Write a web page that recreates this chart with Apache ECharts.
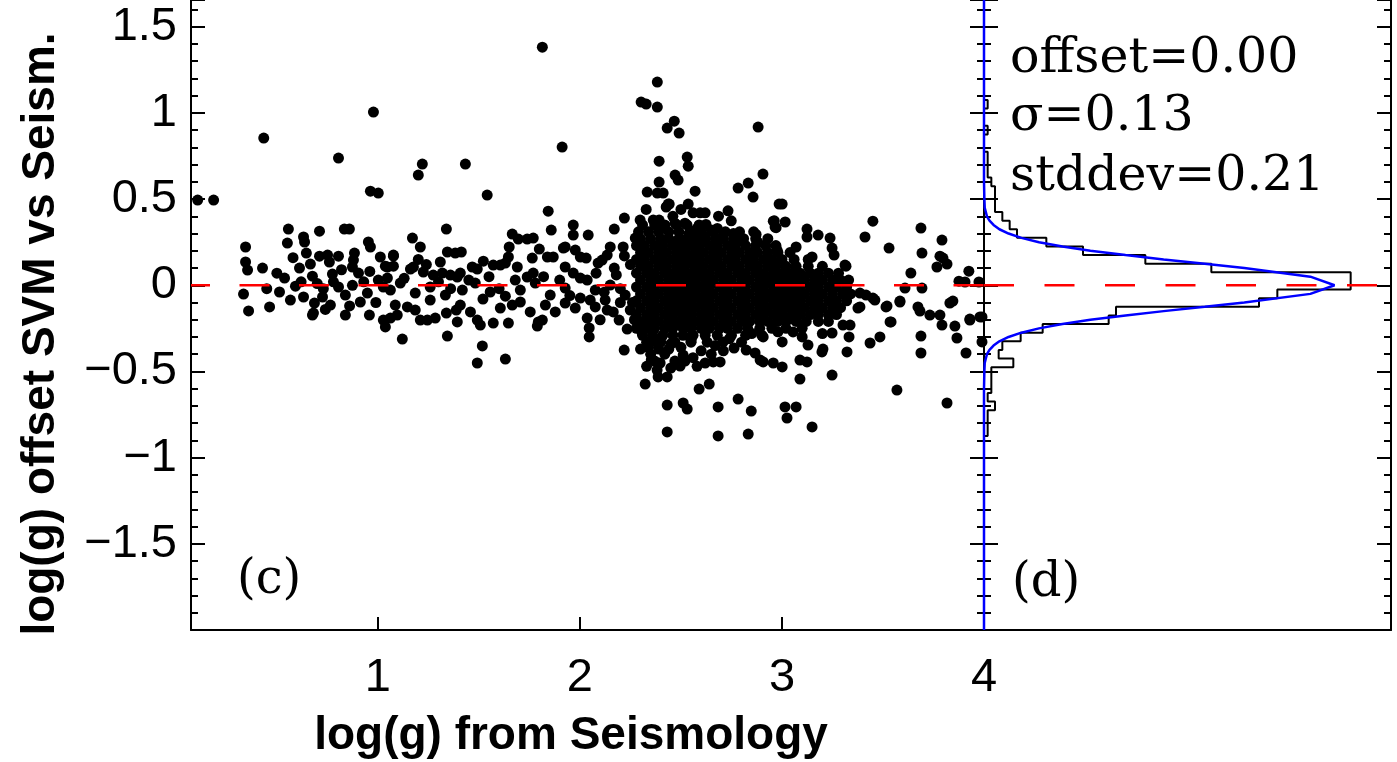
<!DOCTYPE html>
<html><head><meta charset="utf-8">
<script src="https://cdn.jsdelivr.net/npm/echarts@6/dist/echarts.min.js"></script>
<style>html,body{margin:0;padding:0;background:#fff;overflow:hidden}#c{width:1397px;height:762px}</style>
</head><body><div id="c"></div>
<script>
// ---------------- DATA ----------------
const xLabelValues = [1, 2, 3, 4];
const xTickValues = [1, 2, 3];
const xTitle = 'log(g) from Seismology';
const yTitle = 'log(g) offset SVM vs Seism.';
const statLines = ['offset=0.00', 'σ=0.13', 'stddev=0.21'];

const sparseLeft = [[0.108,0.494],[0.187,0.494],[0.435,0.854],[0.978,1.005],[0.805,0.738],[0.963,0.546],[1.002,0.535],
[0.345,0.222],[0.345,0.135],[0.355,0.088],[0.429,0.100],[0.335,-0.051],[0.360,-0.149],[0.464,-0.126],[0.538,0.042],[0.513,-0.039],[0.557,0.326],[0.552,0.245],[0.632,0.280],[0.637,0.251],[0.646,0.187],[0.711,0.314],[0.711,0.169],[0.751,0.175],[0.760,0.135],[0.612,0.100],[0.666,0.123],[0.676,0.053],[0.592,-0.005],[0.632,-0.068],[0.686,-0.103],[0.681,-0.161],[0.676,-0.173],[0.775,0.065],[0.805,0.169],[0.834,0.326],[0.859,0.326],[0.805,-0.010],[0.839,-0.173],[0.884,0.187],[0.874,0.106],[0.904,0.071],[0.879,0.146],[0.953,0.251],[0.963,0.222],[1.012,0.164],[0.913,-0.097],[0.958,-0.173],[0.948,-0.045],[1.002,0.030],[1.047,0.042],[1.027,-0.010],[1.077,0.175],[1.047,0.106],[1.037,-0.242],[1.027,-0.202],
[0.567,-0.086],[0.726,-0.068],[0.765,-0.115],[0.839,-0.057],[0.874,0.000],[0.620,0.020],[0.700,0.010],[0.730,-0.020],[0.780,0.020],[0.990,-0.100],[0.960,0.080],[0.930,0.020],[0.820,0.090],[0.860,-0.120],[0.740,-0.140],[0.580,0.160],[0.500,0.070],[0.450,-0.020]];

const sparseMid = [[1.220,0.703],[1.200,0.639],[1.433,0.703],[1.541,0.523],[1.814,1.381],[1.912,0.802],[1.843,0.430],
[1.171,0.274],[1.210,0.222],[1.339,0.326],[1.344,0.193],[1.383,0.187],[1.413,0.193],[1.077,0.169],[1.037,0.111],[1.077,0.111],[1.176,0.106],[1.161,0.094],[1.225,0.077],[1.309,0.135],[1.274,0.059],[1.319,0.071],[1.359,0.059],[1.408,0.071],[1.393,0.048],[1.467,0.106],[1.492,0.094],[1.522,0.140],[1.571,0.117],[1.606,0.117],[1.631,0.129],[1.650,0.222],[1.646,0.164],[1.665,0.297],[1.695,0.268],[1.739,0.268],[1.769,0.274],[1.799,0.210],[1.764,0.158],[1.839,0.164],[1.868,0.164],[1.690,0.106],[1.739,0.048],[1.769,0.071],[1.858,0.320],[1.918,0.216],[1.927,0.222],[1.967,0.349],[1.967,0.291],[1.977,0.204],[2.041,0.291],[2.002,0.164],[2.031,0.158],[1.927,0.106],[1.967,0.071],[2.002,0.042],[2.036,0.030],[2.090,0.129],[2.110,0.146],[2.135,0.175],[2.150,0.222],[2.170,0.326],[2.220,0.390],[2.274,0.274],[2.214,0.222],
[1.062,-0.028],[1.111,0.013],[1.185,-0.045],[1.259,-0.010],[1.334,-0.057],[1.418,-0.028],[1.482,0.013],[1.556,-0.039],[1.631,-0.063],[1.705,-0.028],[1.779,0.013],[1.853,-0.057],[1.927,-0.016],[2.002,-0.074],[2.076,-0.028],[2.150,0.001],[2.224,-0.057],
[1.086,-0.115],[1.185,-0.144],[1.259,-0.086],[1.408,-0.115],[1.458,-0.155],[1.606,-0.132],[1.705,-0.097],[1.754,-0.155],[1.829,-0.115],[1.878,-0.155],[1.977,-0.132],[2.051,-0.086],[2.125,-0.086],[2.249,-0.144],
[1.121,-0.312],[1.062,-0.190],[1.096,-0.173],[1.146,-0.126],[1.210,-0.202],[1.245,-0.202],[1.284,-0.190],[1.339,-0.161],[1.344,-0.295],[1.393,-0.213],[1.388,-0.144],[1.492,-0.202],[1.507,-0.231],[1.517,-0.352],[1.492,-0.451],[1.571,-0.219],[1.631,-0.428],[1.646,-0.219],[1.665,-0.115],[1.794,-0.213],[1.814,-0.202],[1.789,-0.237],[1.927,-0.103],[2.036,-0.190],[2.046,-0.248],[2.046,-0.300],[2.076,-0.126],[2.135,-0.144],[2.165,-0.155],[2.194,-0.202],[2.234,-0.254],[2.219,-0.376],
[1.130,0.040],[1.300,0.020],[1.450,0.030],[1.550,0.050],[1.600,-0.020],[1.680,0.030],[1.820,0.050],[1.900,0.030],[2.080,0.070],[2.180,0.060],[2.200,-0.020],[2.120,-0.040],[2.250,0.120],[2.220,0.170],[2.170,0.100],[2.260,-0.100],[2.200,-0.100],[2.270,-0.200],[2.100,-0.200],[1.950,-0.060],[1.520,-0.080],[1.360,-0.020],[1.200,0.150],[1.240,0.120]];

const upperCluster = [[2.383,1.179],[2.303,1.063],[2.328,1.051],[2.383,1.034],[2.467,0.952],[2.432,0.912],[2.491,0.883],[2.882,0.918],[2.392,0.720],[2.531,0.744],[2.536,0.691],[2.906,0.645],[2.471,0.639],[2.486,0.610],[2.392,0.599],[2.783,0.564],[2.833,0.593],[2.857,0.512],[2.333,0.541],[2.383,0.535],[2.412,0.535],[2.570,0.546],[2.437,0.471],[2.427,0.454],[2.536,0.471],[2.733,0.432],[2.686,0.401],[2.749,0.374],[2.595,0.420],[2.620,0.420],[2.624,0.353],[2.707,0.285],[2.872,0.295],[2.962,0.374],[2.971,0.334],[2.986,0.471],[2.442,0.471],[2.328,0.440],[2.298,0.378],[2.363,0.378],[2.392,0.378],
[2.460,0.400],[2.520,0.360],[2.560,0.420],[2.500,0.440],[2.410,0.340],[2.580,0.330],[2.650,0.320],[2.470,0.360],[2.540,0.300],[2.620,0.280],[2.680,0.330],[2.760,0.300],[2.800,0.260],[2.880,0.250]];

const rightSide = [[3.001,0.471],[2.957,0.372],[3.016,0.367],[2.966,0.338],[3.124,0.280],[3.179,0.291],[3.238,0.274],[3.248,0.216],[3.258,0.175],[3.070,0.222],[2.976,0.204],[3.312,0.117],[3.450,0.372],[3.411,0.280],[3.530,0.216],[3.688,0.332],[3.693,0.187],[3.792,0.262],[3.782,0.169],[3.797,0.158],[3.767,0.106],[3.817,0.123],[3.638,0.071],[3.925,0.082],[3.876,0.024],[3.906,0.019],[3.975,0.019],[3.609,-0.016],[3.693,-0.016],[3.584,-0.092],[3.520,-0.121],[3.450,-0.074],[3.386,-0.045],[3.416,-0.057],[3.673,-0.126],[3.683,-0.150],[3.732,-0.173],[3.782,-0.173],[3.831,-0.103],[3.846,-0.092],[3.930,-0.196],[3.980,-0.184],[3.540,-0.213],[3.376,-0.132],[3.312,-0.039],[3.124,0.326],[3.149,0.164],[3.317,0.111]];

const lowerRight = [[3.089,-0.544],[3.248,-0.521],[3.015,-0.706],[3.070,-0.706],[3.025,-0.770],[3.149,-0.822],[3.569,-0.608],[3.817,-0.683],[3.322,-0.387],[3.436,-0.335],[3.485,-0.300],[3.332,-0.300],[3.688,-0.295],[3.688,-0.393],[3.535,-0.213],[3.515,-0.126],[3.584,-0.097],[3.792,-0.231],[3.856,-0.237],[3.866,-0.306],[3.911,-0.393],[3.930,-0.202],[3.990,-0.329],[3.990,-0.184],[3.129,-0.347],[3.198,-0.387],[3.203,-0.370],[3.089,-0.434],[3.124,-0.445],[3.001,-0.329],[2.957,-0.451],[3.001,-0.474],[2.907,-0.445],[3.055,-0.271],[3.248,-0.277],[3.337,-0.231],[3.302,-0.231],[3.386,-0.126],[3.460,-0.086]];

const lowerMid = [[2.308,-0.277],[2.313,-0.219],[2.323,-0.573],[2.353,-0.434],[2.382,-0.492],[2.397,-0.451],[2.432,-0.532],[2.387,-0.532],[2.432,-0.695],[2.432,-0.851],[2.511,-0.683],[2.531,-0.718],[2.496,-0.469],[2.511,-0.405],[2.590,-0.602],[2.640,-0.573],[2.620,-0.451],[2.660,-0.445],[2.694,-0.445],[2.684,-0.706],[2.684,-0.874],[2.783,-0.660],[2.848,-0.730],[2.833,-0.863],[2.763,-0.364],[2.823,-0.376],[2.867,-0.393],[2.892,-0.434],[2.709,-0.329],[2.907,-0.300],
[2.340,-0.360],[2.380,-0.330],[2.450,-0.340],[2.550,-0.320],[2.600,-0.380],[2.670,-0.350],[2.740,-0.310],[2.800,-0.330],[2.420,-0.400],[2.470,-0.440],[2.560,-0.420],[2.360,-0.300],[2.980,-0.270],[2.850,-0.280],[3.100,-0.300],[3.200,-0.280],
[2.300,-0.370],[2.350,-0.400],[2.390,-0.370],[2.440,-0.370],[2.500,-0.360],[2.370,-0.440],[2.450,-0.480],[2.520,-0.440],[2.580,-0.470],[2.330,-0.470],[2.650,-0.400],[2.710,-0.380]];

// dense core: [y, x values along that row]
const denseRows = [
[0.35,[2.31,2.37,2.42,2.48,2.53,2.59]],
[0.31,[2.29,2.34,2.39,2.44,2.49,2.55,2.60,2.66,2.72,2.79,2.86]],
[0.27,[2.30,2.35,2.40,2.44,2.49,2.53,2.58,2.62,2.67,2.71,2.76,2.81,2.87,2.93]],
[0.23,[2.28,2.32,2.37,2.41,2.46,2.50,2.55,2.59,2.64,2.68,2.73,2.77,2.82,2.87,2.92,2.97]],
[0.19,[2.30,2.34,2.39,2.43,2.48,2.52,2.57,2.61,2.66,2.70,2.75,2.79,2.84,2.88,2.93,2.98,3.04]],
[0.15,[2.28,2.32,2.37,2.41,2.46,2.50,2.55,2.59,2.64,2.68,2.73,2.77,2.82,2.86,2.91,2.95,3.00,3.06,3.13]],
[0.11,[2.30,2.34,2.39,2.43,2.48,2.52,2.57,2.61,2.66,2.70,2.75,2.79,2.84,2.88,2.93,2.97,3.02,3.07,3.13,3.20]],
[0.07,[2.28,2.33,2.37,2.42,2.46,2.51,2.55,2.60,2.64,2.69,2.73,2.78,2.82,2.87,2.91,2.96,3.00,3.05,3.09,3.14,3.18,3.23,3.28]],
[0.03,[2.30,2.35,2.39,2.44,2.48,2.53,2.57,2.62,2.66,2.71,2.75,2.80,2.84,2.89,2.93,2.98,3.02,3.07,3.11,3.16,3.20,3.25,3.29,3.33]],
[-0.01,[2.28,2.33,2.37,2.42,2.46,2.51,2.55,2.60,2.64,2.69,2.73,2.78,2.82,2.87,2.91,2.96,3.00,3.05,3.09,3.14,3.18,3.23,3.27,3.32]],
[-0.05,[2.30,2.35,2.39,2.44,2.48,2.53,2.57,2.62,2.66,2.71,2.75,2.80,2.84,2.89,2.93,2.98,3.02,3.07,3.11,3.16,3.20,3.25,3.30,3.34]],
[-0.09,[2.28,2.33,2.37,2.42,2.46,2.51,2.55,2.60,2.64,2.69,2.73,2.78,2.82,2.87,2.91,2.96,3.00,3.05,3.09,3.14,3.18,3.23,3.27,3.32]],
[-0.13,[2.30,2.35,2.39,2.44,2.48,2.53,2.57,2.62,2.66,2.71,2.75,2.80,2.84,2.89,2.93,2.98,3.02,3.07,3.11,3.16,3.20,3.25,3.29]],
[-0.17,[2.28,2.33,2.37,2.42,2.46,2.51,2.55,2.60,2.64,2.69,2.73,2.78,2.82,2.87,2.91,2.96,3.00,3.05,3.09,3.14,3.18,3.23,3.27]],
[-0.21,[2.30,2.35,2.39,2.44,2.48,2.53,2.57,2.62,2.66,2.71,2.75,2.80,2.84,2.89,2.93,2.98,3.02,3.07,3.12,3.18,3.23]],
[-0.25,[2.28,2.33,2.37,2.42,2.46,2.51,2.55,2.60,2.64,2.69,2.73,2.78,2.83,2.89,2.95,3.02,3.10]],
[-0.29,[2.31,2.36,2.41,2.46,2.51,2.56,2.62,2.68,2.75,2.82,2.90]],
[-0.33,[2.33,2.40,2.47,2.55,2.63]]
];

// histogram of offsets (bin centres, width 0.05) and counts
const histCenters = [-0.90,-0.85,-0.80,-0.75,-0.70,-0.65,-0.60,-0.55,-0.50,-0.45,-0.40,-0.35,-0.30,-0.25,-0.20,-0.15,-0.10,-0.05,0.00,0.05,0.10,0.15,0.20,0.25,0.30,0.35,0.40,0.45,0.50,0.55,0.60,0.65,0.70,0.75,0.80,0.85,0.90,0.95,1.00,1.05,1.10];
const histCounts  = [0,1,1,1,3,1,2,2,2,8,4,5,10,16,34,36,75,80,100,100,62,44,27,17,9,7,5,3,3,3,2,1,1,1,0,0,1,0,0,1,0];
const histBinWidth = 0.05;

// fitted gaussian (blue curve)
const fitOffset = [-2.0,-0.6,-0.5,-0.45,-0.425,-0.4,-0.375,-0.35,-0.325,-0.3,-0.275,-0.25,-0.225,-0.2,-0.175,-0.15,-0.125,-0.1,-0.05,0,0.05,0.1,0.125,0.15,0.175,0.2,0.225,0.25,0.275,0.3,0.325,0.35,0.375,0.4,0.425,0.45,0.5,0.6,1.655];
const fitCount  = [0,0,0.1,0.2,0.5,0.8,1.5,2.6,4.2,6.7,10.2,15,21.4,29,38.6,49,60.2,71,89,95.6,89,71,60.2,49,38.6,29,21.4,15,10.2,6.7,4.2,2.6,1.5,0.8,0.5,0.2,0.1,0,0];

// ---------------- BUILD ----------------
const scatterData = [].concat(sparseLeft, sparseMid, upperCluster, rightSide, lowerRight, lowerMid);
denseRows.forEach(function (r) { r[1].forEach(function (x) { scatterData.push([x, r[0]]); }); });

const histPath = [[0, histCenters[0] - histBinWidth / 2]];
histCenters.forEach(function (c, i) {
  histPath.push([histCounts[i], c - histBinWidth / 2]);
  histPath.push([histCounts[i], c + histBinWidth / 2]);
});
histPath.push([0, histCenters[histCenters.length - 1] + histBinWidth / 2]);
const fitData = fitOffset.map(function (y, i) { return [fitCount[i], y]; });

const XMIN = 0.075, XMAX = 4, YMIN = -2, YMAX = 1.655, HMAX = 111;
const SANS = '"Liberation Sans", Arial, Helvetica, sans-serif';
const SERIF = '"DejaVu Serif", "Liberation Serif", serif';
const fmtY = function (v) { if (Math.abs(v) < 1e-9) return '0'; return (v < 0 ? '\u2212' : '') + String(Math.abs(v)); };

function yAx(gridIndex, position, showLabel) {
  return {
    type: 'value', gridIndex: gridIndex, position: position, min: YMIN, max: YMAX, interval: 0.5,
    axisLine: { show: true, onZero: false, lineStyle: { color: '#000', width: 2 } },
    axisTick: { show: true, inside: true, length: 14, lineStyle: { color: '#000', width: 2 } },
    minorTick: { show: true, splitNumber: 5, length: 7, lineStyle: { color: '#000', width: 2 } },
    axisLabel: showLabel ? { show: true, color: '#000', fontFamily: SANS, fontSize: 47, margin: 14,
      padding: [8, 0, 0, 0], showMinLabel: false, showMaxLabel: false, formatter: fmtY } : { show: false },
    splitLine: { show: false }, minorSplitLine: { show: false }
  };
}

const option = {
  backgroundColor: '#fff',
  animation: false,
  grid: [
    { left: 191, top: 0, width: 793, height: 630, containLabel: false },
    { left: 984, top: 0, width: 407, height: 630, containLabel: false }
  ],
  xAxis: [
    { type: 'value', gridIndex: 0, min: XMIN, max: XMAX,
      axisLine: { show: true, onZero: false, lineStyle: { color: '#000', width: 2 } },
      axisTick: { show: true, inside: true, length: 13, customValues: xTickValues, lineStyle: { color: '#000', width: 2 } },
      axisLabel: { show: true, customValues: xLabelValues, color: '#000', fontFamily: SANS, fontSize: 47, margin: 25 },
      splitLine: { show: false } },
    { type: 'value', gridIndex: 1, min: 0, max: HMAX,
      axisLine: { show: true, onZero: false, lineStyle: { color: '#000', width: 2 } },
      axisTick: { show: false }, axisLabel: { show: false }, splitLine: { show: false } }
  ],
  yAxis: [ yAx(0, 'left', true), yAx(0, 'right', false), yAx(1, 'left', false), yAx(1, 'right', false) ],
  series: [
    { type: 'scatter', xAxisIndex: 0, yAxisIndex: 0, data: scatterData, symbol: 'circle', symbolSize: 11,
      itemStyle: { color: '#000', opacity: 1 }, z: 2, silent: true },
    { type: 'line', xAxisIndex: 0, yAxisIndex: 0, data: [[XMIN, 0], [XMAX, 0]], symbol: 'none', clip: false,
      lineStyle: { color: '#ff0000', width: 2.5, type: [30, 29.5], dashOffset: 11 }, z: 6, silent: true },
    { type: 'line', xAxisIndex: 1, yAxisIndex: 2, data: histPath, symbol: 'none', clip: false,
      lineStyle: { color: '#000', width: 2 }, z: 3, silent: true },
    { type: 'line', xAxisIndex: 1, yAxisIndex: 2, data: fitData, symbol: 'none', clip: false,
      lineStyle: { color: '#0000ff', width: 2.5 }, z: 4, silent: true },
    { type: 'line', xAxisIndex: 1, yAxisIndex: 2, data: [[0, 0], [HMAX, 0]], symbol: 'none', clip: false,
      lineStyle: { color: '#ff0000', width: 2.5, type: [30, 30.5], dashOffset: 0 }, z: 6, silent: true }
  ],
  graphic: [
    { type: 'text', x: 41, y: 334, rotation: Math.PI / 2, silent: true,
      style: { text: yTitle, fill: '#000', font: 'bold 46px ' + SANS, align: 'center', verticalAlign: 'middle', textAlign: 'center', textVerticalAlign: 'middle' } },
    { type: 'text', x: 571, y: 736, silent: true,
      style: { text: xTitle, fill: '#000', font: 'bold 46px ' + SANS, align: 'center', verticalAlign: 'middle', textAlign: 'center', textVerticalAlign: 'middle' } },
    { type: 'text', x: 237, y: 581, silent: true,
      style: { text: '(c)', fill: '#000', font: '48px ' + SERIF, align: 'left', verticalAlign: 'middle', textAlign: 'left', textVerticalAlign: 'middle' } },
    { type: 'text', x: 1012, y: 584, silent: true,
      style: { text: '(d)', fill: '#000', font: '48px ' + SERIF, align: 'left', verticalAlign: 'middle', textAlign: 'left', textVerticalAlign: 'middle' } },
    { type: 'text', x: 1010, y: 59, silent: true,
      style: { text: statLines[0], fill: '#000', font: '49px ' + SERIF, align: 'left', verticalAlign: 'middle', textAlign: 'left', textVerticalAlign: 'middle' } },
    { type: 'text', x: 1010, y: 117, silent: true,
      style: { text: statLines[1], fill: '#000', font: '49px ' + SERIF, align: 'left', verticalAlign: 'middle', textAlign: 'left', textVerticalAlign: 'middle' } },
    { type: 'text', x: 1010, y: 177, silent: true,
      style: { text: statLines[2], fill: '#000', font: '49px ' + SERIF, align: 'left', verticalAlign: 'middle', textAlign: 'left', textVerticalAlign: 'middle' } }
  ]
};

const chart = echarts.init(document.getElementById('c'), null, { renderer: 'canvas', width: 1397, height: 762 });
chart.setOption(option);
</script>
</body></html>
